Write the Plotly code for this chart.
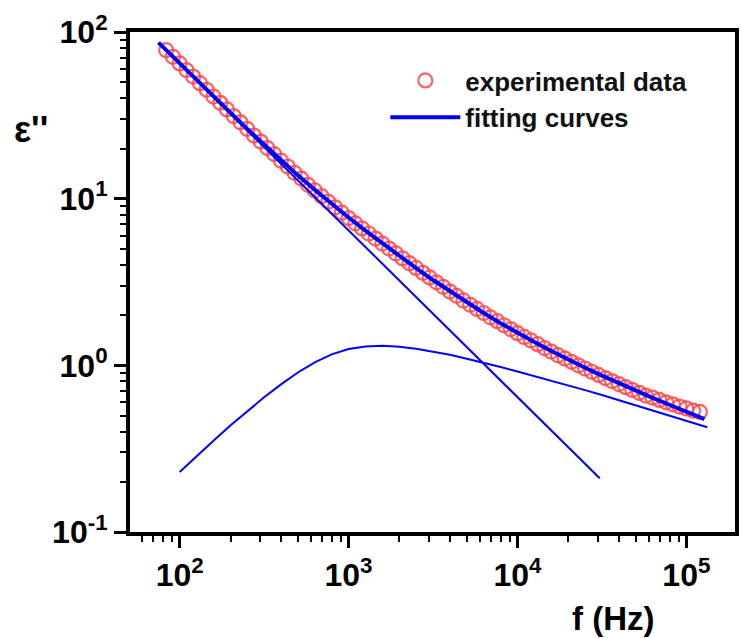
import plotly.graph_objects as go

# ---------------- data ----------------
exp_f = [83.2, 91.2, 100, 109.6, 120.2, 131.8, 144.5, 158.5, 173.8, 190.5,
         208.9, 229.1, 251.2, 275.4, 302.0, 331.1, 363.1, 398.1, 436.5, 478.6,
         524.8, 575.4, 631.0, 691.8, 758.6, 831.8, 912.0, 1000, 1096, 1202,
         1318, 1445, 1585, 1738, 1905, 2089, 2291, 2512, 2754, 3020,
         3311, 3631, 3981, 4365, 4786, 5248, 5754, 6310, 6918, 7586,
         8318, 9120, 10000, 10960, 12020, 13180, 14450, 15850, 17380, 19050,
         20890, 22910, 25120, 27540, 30200, 33110, 36310, 39810, 43650, 47860,
         52480, 57540, 63100, 69180, 75860, 83180, 91200, 100000, 109600, 120200]
exp_eps = [77.8, 71.0, 64.8, 59.1, 54.0, 49.3, 45.0, 41.0, 37.6, 34.3,
           31.3, 28.7, 26.2, 23.9, 22.0, 20.1, 18.5, 16.9, 15.6, 14.3,
           13.2, 12.1, 11.2, 10.35, 9.58, 8.87, 8.24, 7.65, 7.11, 6.63,
           6.18, 5.76, 5.38, 5.02, 4.69, 4.38, 4.10, 3.84, 3.59, 3.37,
           3.15, 2.96, 2.77, 2.61, 2.45, 2.31, 2.18, 2.06, 1.94, 1.84,
           1.74, 1.65, 1.56, 1.48, 1.41, 1.34, 1.27, 1.21, 1.15, 1.10,
           1.05, 1.00, 0.957, 0.915, 0.876, 0.839, 0.805, 0.772, 0.741, 0.712,
           0.684, 0.658, 0.640, 0.620, 0.600, 0.583, 0.566, 0.551, 0.535, 0.525]

fit_total_f = [75, 79.4, 100, 125.9, 158.5, 199.5, 251.2, 316.2, 398.1, 501.2,
               631.0, 794.3, 1000, 1259, 1585, 1995, 2512, 3162, 3981, 5012,
               6310, 7943, 10000, 12590, 15850, 19950, 25120, 31620, 39810, 50120,
               63100, 79430, 100000, 125900, 128000]
fit_total_eps = [86.3, 81.5, 64.8, 51.6, 41.1, 32.8, 26.2, 21.1, 17.0, 13.8,
                 11.3, 9.29, 7.71, 6.43, 5.38, 4.53, 3.83, 3.25, 2.78, 2.38,
                 2.06, 1.79, 1.56, 1.38, 1.22, 1.08, 0.967, 0.868, 0.780, 0.704,
                 0.638, 0.580, 0.530, 0.484, 0.476]

fit_cond_f = [75, 30700]
fit_cond_eps = [86.1, 0.21]

fit_relax_f = [100, 125.9, 158.5, 199.5, 251.2, 316.2, 398.1, 501.2, 631.0, 794.3,
               1000, 1259, 1585, 1995, 2512, 3162, 3981, 5012, 6310, 7943,
               10000, 12590, 15850, 19950, 25120, 31620, 39810, 50120, 63100, 79430,
               100000, 125900, 133000]
fit_relax_eps = [0.229, 0.285, 0.353, 0.435, 0.531, 0.643, 0.769, 0.906, 1.042, 1.164,
                 1.253, 1.297, 1.309, 1.294, 1.259, 1.211, 1.156, 1.096, 1.038, 0.977,
                 0.918, 0.863, 0.809, 0.759, 0.710, 0.664, 0.618, 0.575, 0.536, 0.499,
                 0.465, 0.433, 0.425]

x_major = [1e2, 1e3, 1e4, 1e5]
x_major_text = ["10<sup>2</sup>", "10<sup>3</sup>", "10<sup>4</sup>", "10<sup>5</sup>"]
y_major = [0.1, 1, 10, 100]
y_major_text = ["10<sup>-1</sup>", "10<sup>0</sup>", "10<sup>1</sup>", "10<sup>2</sup>"]

x_minor = [k * 10 ** e for e in range(1, 6) for k in range(2, 10)]
y_minor = [k * 10.0 ** e for e in range(-2, 3) for k in range(2, 10)]

BLUE = "#0000ff"
RED = "rgba(255,70,70,0.85)"
TICKFONT = dict(family="Liberation Sans Narrow, Arial Narrow, Liberation Sans, Arial",
                size=32, color="black", weight="bold")

fig = go.Figure()
fig.add_trace(go.Scatter(
    x=exp_f, y=exp_eps, mode="markers", name="experimental data",
    marker=dict(symbol="circle-open", size=14, color=RED, line=dict(width=2.2)),
))
fig.add_trace(go.Scatter(
    x=fit_total_f, y=fit_total_eps, mode="lines", name="fitting curves",
    line=dict(color=BLUE, width=4),
))
fig.add_trace(go.Scatter(
    x=fit_cond_f, y=fit_cond_eps, mode="lines", showlegend=False,
    line=dict(color=BLUE, width=2),
))
fig.add_trace(go.Scatter(
    x=fit_relax_f, y=fit_relax_eps, mode="lines", showlegend=False,
    line=dict(color=BLUE, width=2),
))

axis_common = dict(
    type="log", showgrid=False, zeroline=False,
    showline=True, linecolor="black", linewidth=4, mirror=True,
    ticks="outside", ticklen=12, tickwidth=3, tickcolor="black",
    tickmode="array", tickfont=TICKFONT,
    minor=dict(ticks="outside", ticklen=6, tickwidth=2, tickcolor="black",
               tickmode="array", showgrid=False),
)

fig.update_layout(
    width=742, height=639,
    margin=dict(l=130, r=3, t=32, b=107),
    paper_bgcolor="white", plot_bgcolor="white",
    xaxis=dict(axis_common, range=[1.706, 5.288], tickvals=x_major, ticktext=x_major_text,
               minor=dict(axis_common["minor"], tickvals=x_minor)),
    yaxis=dict(axis_common, range=[-1, 2], tickvals=y_major, ticktext=y_major_text,
               minor=dict(axis_common["minor"], tickvals=y_minor)),
    legend=dict(x=0.422, y=0.95, xanchor="left", yanchor="top",
                bgcolor="rgba(0,0,0,0)", itemwidth=70,
                font=dict(family="Liberation Sans, Arial", size=26, color="#111", weight="bold")),
    showlegend=True,
)

fig.add_annotation(text="ε''", xref="paper", yref="paper", x=-0.164, y=0.804,
                   showarrow=False, xanchor="center", yanchor="middle",
                   font=dict(family="Liberation Sans, Arial", size=36, color="black", weight="bold"))
fig.add_annotation(text="f (Hz)", xref="paper", yref="paper", x=0.798, y=-0.172,
                   showarrow=False, xanchor="center", yanchor="middle",
                   font=dict(family="Liberation Sans, Arial", size=33, color="black", weight="bold"))

fig.write_html("out.html")
